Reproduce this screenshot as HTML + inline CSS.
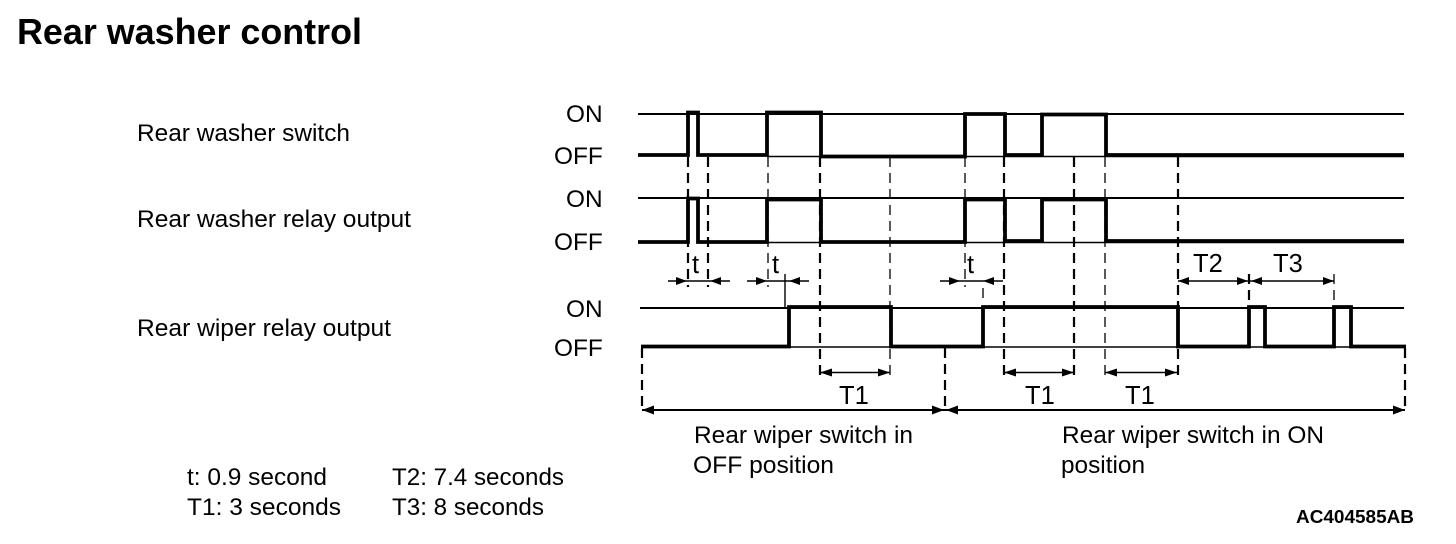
<!DOCTYPE html>
<html><head><meta charset="utf-8"><style>
html,body{margin:0;padding:0;background:#fff;width:1456px;height:544px;overflow:hidden}
svg{display:block}
text{font-family:"Liberation Sans",Arial,sans-serif;fill:#000;font-size:24.4px}
.thin{stroke:#000;stroke-width:2;fill:none}
.hair{stroke:#000;stroke-width:1.4;fill:none}
.sig{stroke:#000;stroke-width:3.800;fill:none;stroke-linejoin:miter}
.d1{stroke:#000;stroke-width:1.3;stroke-dasharray:10 6;fill:none}
.d2{stroke:#000;stroke-width:2.2;stroke-dasharray:10 6;fill:none}
.h{fill:#000}
.big{font-size:25.500px}
</style></head><body>
<svg width="1456" height="544" viewBox="0 0 1456 544" xmlns="http://www.w3.org/2000/svg">
<text x="17" y="44" style="font-size:35.800px;font-weight:bold" textLength="345" lengthAdjust="spacingAndGlyphs">Rear washer control</text>
<text x="137" y="141" textLength="213" lengthAdjust="spacingAndGlyphs">Rear washer switch</text>
<text x="137" y="227" textLength="274" lengthAdjust="spacingAndGlyphs">Rear washer relay output</text>
<text x="137" y="336" textLength="254" lengthAdjust="spacingAndGlyphs">Rear wiper relay output</text>

<text x="566" y="122">ON</text><text x="554" y="164">OFF</text>
<text x="566" y="207">ON</text><text x="554" y="250">OFF</text>
<text x="566" y="317">ON</text><text x="554" y="356">OFF</text>

<!-- base lines -->
<path class="thin" d="M638 114H1404M638 198H1404M640 308H1404"/>
<path class="hair" d="M767 156.500H1404M767 242.500H1404M789 347H1404"/>

<!-- dashed guides -->
<path class="d2" d="M688 157V287M708 157V287M820 157V375M1004 157V375M1074 157V375M1178 157V375M642 348V412M945 348V412M1405 348V412M1249 274V300"/>
<path class="d1" d="M768 157V287M890 157V375M965 157V287M1105 157V375M983 288V304M1334 274V300"/>
<path class="hair" d="M785 274V308"/>

<!-- signals -->
<path class="sig" d="M638 155H688V112.500H698V155H767V112.500H821V156.500H965V114H1005V155H1042V114.500H1106V155H1404"/>
<path class="sig" d="M638 242H688V198.500H698V242H767V199.500H821V242H965V199.500H1005V241H1042V199.500H1106V241H1404"/>
<path class="sig" d="M641 346.500H789V307H891V346.500H983V307H1178V346.500H1249V307H1265V346.500H1334V307H1351V346.500H1406"/>

<!-- t arrows -->
<path class="hair" d="M668 281H730M747 281H809M940 281H1003"/>
<path class="h" d="M687 281l-11-4v8zM710 281l11-4v8zM767 281l-11-4v8zM789 281l11-4v8zM960 281l-11-4v8zM983 281l11-4v8z"/>
<text class="big" x="692" y="273">t</text><text class="big" x="772" y="273">t</text><text class="big" x="967" y="273">t</text>

<!-- T2, T3 -->
<path class="hair" d="M1178 281H1334"/>
<path class="h" d="M1178 281l11-4v8zM1248 281l-11-4v8zM1251 281l11-4v8zM1334 281l-11-4v8z"/>
<text class="big" x="1193" y="272">T2</text><text class="big" x="1273" y="272">T3</text>

<!-- T1 arrows -->
<path class="hair" d="M820 372.500H890M1004 372.500H1074M1105 372.500H1177"/>
<path class="h" d="M820 372.500l12-4v8zM890 372.500l-12-4v8zM1004 372.500l12-4v8zM1074 372.500l-12-4v8zM1105 372.500l12-4v8zM1177 372.500l-12-4v8z"/>
<text class="big" x="839" y="404">T1</text><text class="big" x="1025" y="404">T1</text><text class="big" x="1125" y="404">T1</text>

<!-- span arrows -->
<path class="thin" d="M642 410H1405"/>
<path class="h" d="M642 410l12-4.500v9zM944 410l-12-4.500v9zM946 410l12-4.500v9zM1405 410l-12-4.500v9z"/>

<text x="694" y="443" textLength="219" lengthAdjust="spacingAndGlyphs">Rear wiper switch in</text>
<text x="693" y="473" textLength="141" lengthAdjust="spacingAndGlyphs">OFF position</text>
<text x="1062" y="443" textLength="262" lengthAdjust="spacingAndGlyphs">Rear wiper switch in ON</text>
<text x="1061" y="473" textLength="84" lengthAdjust="spacingAndGlyphs">position</text>

<text x="187" y="485" textLength="140" lengthAdjust="spacingAndGlyphs">t: 0.9 second</text>
<text x="187" y="515" textLength="154" lengthAdjust="spacingAndGlyphs">T1: 3 seconds</text>
<text x="392" y="485" textLength="172" lengthAdjust="spacingAndGlyphs">T2: 7.4 seconds</text>
<text x="392" y="515" textLength="152" lengthAdjust="spacingAndGlyphs">T3: 8 seconds</text>
<text x="1296" y="523" style="font-size:18px;font-weight:bold" textLength="118" lengthAdjust="spacingAndGlyphs">AC404585AB</text>
</svg>
</body></html>
